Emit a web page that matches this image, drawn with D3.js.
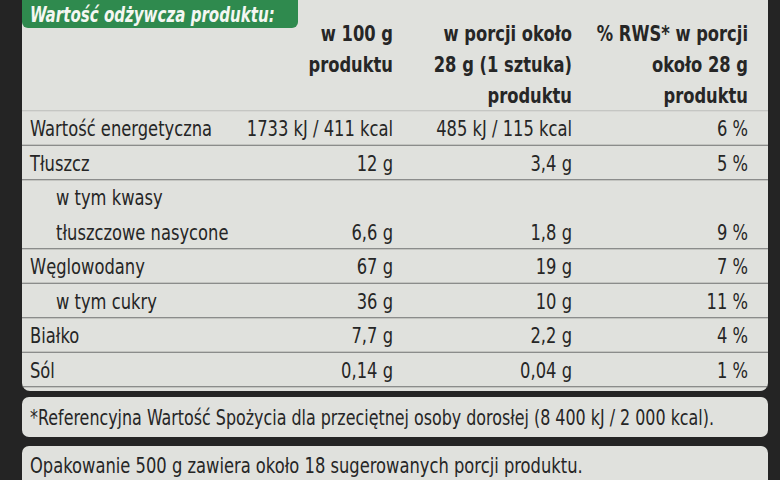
<!DOCTYPE html>
<html><head><meta charset="utf-8">
<script src="https://cdn.jsdelivr.net/npm/d3@7"></script>
<style>body{margin:0;background:#232323}svg{display:block}</style>
</head><body>
<script>
// table content
var labels = [["Wartość energetyczna"], ["Tłuszcz"], ["w tym kwasy", "tłuszczowe nasycone"], ["Węglowodany"], ["w tym cukry"], ["Białko"], ["Sól"]];
var indent = [0, 0, 1, 0, 1, 0, 0];
var per100 = ["1733 kJ / 411 kcal", "12 g", "6,6 g", "67 g", "36 g", "7,7 g", "0,14 g"];
var perPortion = ["485 kJ / 115 kcal", "3,4 g", "1,8 g", "19 g", "10 g", "2,2 g", "0,04 g"];
var rws = ["6 %", "5 %", "9 %", "7 %", "11 %", "4 %", "1 %"];
var headers = [["w 100 g", "produktu"], ["w porcji około", "28 g (1 sztuka)", "produktu"], ["% RWS* w porcji", "około 28 g", "produktu"]];
var slots = [0, 1, 3, 4, 5, 6, 7]; // slot of the row's value line

var W = 780, H = 480, font = "'DejaVu Sans',sans-serif", sx = 0.76;
var svg = d3.select("body").append("svg").attr("width", W).attr("height", H);
svg.append("rect").attr("width", W).attr("height", H).attr("fill", "#242424");

var panel = "#e0e1dd", ink = "#262626";
svg.append("rect").attr("x", 22).attr("y", -10).attr("width", 746).attr("height", 401).attr("rx", 8).attr("fill", panel);
svg.append("rect").attr("x", 22).attr("y", 397).attr("width", 746).attr("height", 40).attr("rx", 7).attr("fill", panel);
svg.append("rect").attr("x", 22).attr("y", 446).attr("width", 746).attr("height", 50).attr("rx", 7).attr("fill", panel);

// condensed text: draw normally and squeeze horizontally
function txt(g, x, y, s, anchor, size) {
    return g.append("g").attr("transform", "translate(" + x + "," + y + ") scale(" + sx + ",1)")
        .append("text").attr("text-anchor", anchor || "start").attr("font-size", size || 21.5).text(s);
}

// green title tab
svg.append("rect").attr("x", 22).attr("y", -10).attr("width", 276).attr("height", 38).attr("rx", 6).attr("fill", "#2f8a4e");
var tt = txt(svg.append("g").attr("font-family", font), 30, 22, "Wartość odżywcza produktu:", "start", 22);
tt.attr("font-weight", "bold").attr("font-style", "italic").attr("fill", "#f4f7f2");
tt.attr("textLength", 322).attr("lengthAdjust", "spacingAndGlyphs");

var y = d3.scaleLinear().domain([0, 1]).range([128, 162.5]);
var colX = [393, 572, 748];

// row separators
var bounds = [-0.5].concat(slots.map(function (s) { return s + 0.5; }));
svg.selectAll("line.sep").data(bounds).enter().append("line")
    .attr("x1", 22).attr("x2", 768)
    .attr("y1", function (d) { return y(d); }).attr("y2", function (d) { return y(d); })
    .attr("stroke", "#555").attr("stroke-width", 1.2).attr("opacity", function (d, i) { return i === 0 ? 0.25 : 0.8; });

var t = svg.append("g").attr("font-family", font).attr("fill", ink);

headers.forEach(function (h, c) {
    h.forEach(function (line, k) {
        txt(t, colX[c], 41 + k * 31, line, "end").attr("font-weight", "bold");
    });
});

labels.forEach(function (lines, i) {
    lines.forEach(function (line, k) {
        txt(t, 30 + indent[i] * 26, y(slots[i] - (lines.length - 1 - k)) + 8, line);
    });
});
[per100, perPortion, rws].forEach(function (col, c) {
    col.forEach(function (d, i) { txt(t, colX[c], y(slots[i]) + 8, d, "end"); });
});

txt(t, 30, 425, "*Referencyjna Wartość Spożycia dla przeciętnej osoby dorosłej (8 400 kJ / 2 000 kcal).").attr("textLength", 900).attr("lengthAdjust", "spacingAndGlyphs");
txt(t, 30, 473, "Opakowanie 500 g zawiera około 18 sugerowanych porcji produktu.");
</script>
</body></html>
